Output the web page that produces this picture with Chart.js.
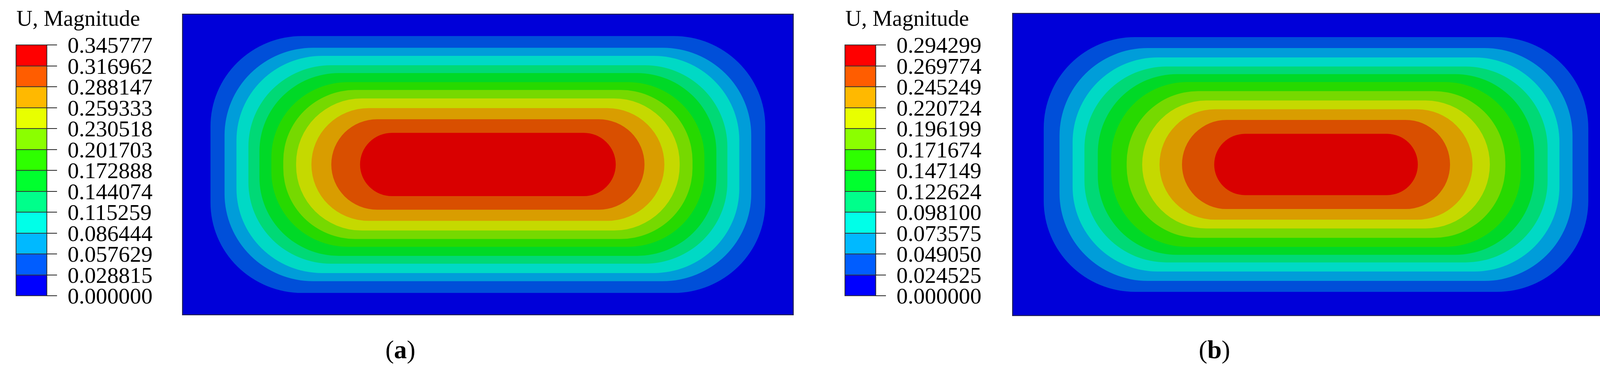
<!DOCTYPE html>
<html>
<head>
<meta charset="utf-8">
<script src="https://cdn.jsdelivr.net/npm/chart.js@4.4.1/dist/chart.umd.min.js"></script>
<style>
  html, body { margin:0; padding:0; background:#fff; }
  body { width:4177px; height:965px; position:relative; overflow:hidden; font-family:"Liberation Serif","DejaVu Serif",serif; color:#000; }
  .box { position:absolute; }
  .box canvas { display:block; }
  .ttl { position:absolute; font-size:57px; white-space:nowrap; line-height:1; }
  .lab { position:absolute; font-size:58px; line-height:1; white-space:nowrap; transform:translateY(-50%); }
  .sw { position:absolute; box-sizing:border-box; border:2px solid #333; }
  .tk { position:absolute; height:2px; background:#222; }
  .cap { position:absolute; font-size:66px; line-height:1; transform:translateX(-50%); }
</style>
</head>
<body>
<div class="box" id="boxA" style="left:466px;top:35px;width:1566px;height:772px"><canvas id="cA"></canvas></div>
<div class="box" id="boxB" style="left:2591px;top:33px;width:1556px;height:776px"><canvas id="cB"></canvas></div>
<div class="cap" style="left:1025px;top:862px">(<b>a</b>)</div>
<div class="cap" style="left:3109px;top:862px">(<b>b</b>)</div>
<script>
/* ── Data ── */
const LEVELS_A = ['0.345777','0.316962','0.288147','0.259333','0.230518','0.201703','0.172888','0.144074','0.115259','0.086444','0.057629','0.028815','0.000000'];
const LEVELS_B = ['0.294299','0.269774','0.245249','0.220724','0.196199','0.171674','0.147149','0.122624','0.098100','0.073575','0.049050','0.024525','0.000000'];
// legend colours, low → high
const BAND_COLORS = ['#0000ff','#005dff','#00b9ff','#00ffe8','#00ff8b','#00ff2e','#2eff00','#8bff00','#e8ff00','#ffb900','#ff5d00','#ff0000'];
// contour outlines (levels 1..11), half sizes in domain units, domain 2 x 1 centred at (1, 0.5)
const HALF_W_A = [0.907,0.861,0.822,0.783,0.747,0.708,0.669,0.627,0.577,0.512,0.418];
const HALF_H_A = [0.426,0.387,0.360,0.329,0.303,0.273,0.247,0.219,0.187,0.150,0.105];
const CORNER_A = [0.30,0.29,0.28,0.27,0.26,0.25,0.235,0.215,0.187,0.150,0.105];
const HALF_W_B = [0.896,0.844,0.801,0.762,0.718,0.674,0.623,0.572,0.515,0.441,0.335];
const HALF_H_B = [0.420,0.384,0.353,0.323,0.298,0.272,0.242,0.211,0.182,0.147,0.101];
const CORNER_B = [0.30,0.29,0.28,0.27,0.26,0.25,0.235,0.211,0.182,0.147,0.101];

function shade(hex, f) {
  const n = parseInt(hex.slice(1), 16);
  const r = Math.round((n >> 16 & 255) * f), g = Math.round((n >> 8 & 255) * f), b = Math.round((n & 255) * f);
  return `rgb(${r},${g},${b})`;
}

/* ── Contour plugin ── */
const contourPlugin = {
  id: 'contour',
  beforeDatasetsDraw(chart) {
    const { ctx, scales: { x, y } } = chart;
    const o = chart.options.plugins.contour;
    const px = v => x.getPixelForValue(v), py = v => y.getPixelForValue(v);
    ctx.save();
    ctx.fillStyle = shade(BAND_COLORS[0], 0.85);
    ctx.fillRect(px(0), py(1), px(2) - px(0), py(0) - py(1));
    o.hw.forEach((hw, i) => {
      const hh = o.hh[i], r = Math.min(o.corner[i], hh);
      const x0 = px(1 - hw), x1 = px(1 + hw), y0 = py(0.5 + hh), y1 = py(0.5 - hh);
      const rx = Math.abs(px(r) - px(0)), ry = Math.abs(py(r) - py(0));
      ctx.beginPath();
      ctx.moveTo(x0 + rx, y0);
      ctx.lineTo(x1 - rx, y0);
      ctx.ellipse(x1 - rx, y0 + ry, rx, ry, 0, -Math.PI / 2, 0);
      ctx.lineTo(x1, y1 - ry);
      ctx.ellipse(x1 - rx, y1 - ry, rx, ry, 0, 0, Math.PI / 2);
      ctx.lineTo(x0 + rx, y1);
      ctx.ellipse(x0 + rx, y1 - ry, rx, ry, 0, Math.PI / 2, Math.PI);
      ctx.lineTo(x0, y0 + ry);
      ctx.ellipse(x0 + rx, y0 + ry, rx, ry, 0, Math.PI, Math.PI * 1.5);
      ctx.closePath();
      ctx.fillStyle = shade(BAND_COLORS[i + 1], 0.85);
      ctx.fill();
    });
    ctx.strokeStyle = '#222255'; ctx.lineWidth = 3;
    ctx.strokeRect(px(0) + 1, py(1) + 1, px(2) - px(0) - 2, py(0) - py(1) - 2);
    ctx.restore();
  }
};

function makeChart(id, hw, hh, corner) {
  new Chart(document.getElementById(id), {
    type: 'scatter',
    data: { datasets: [{ data: hw.map((w, i) => ({ x: 1 - w, y: 0.5 + hh[i] })), pointRadius: 0 }] },
    options: {
      responsive: true, maintainAspectRatio: false, animation: false,
      layout: { padding: 0 },
      plugins: { legend: { display: false }, tooltip: { enabled: false }, contour: { hw, hh, corner } },
      scales: {
        x: { type: 'linear', min: 0, max: 2, display: false },
        y: { type: 'linear', min: 0, max: 1, display: false }
      }
    },
    plugins: [contourPlugin]
  });
}

/* ── Colour legend ── */
function legend(left, levels) {
  const top = 114, step = 53.5, w = 81;
  const t = document.createElement('div');
  t.className = 'ttl'; t.textContent = 'U, Magnitude';
  t.style.left = (left + 2) + 'px'; t.style.top = '18px';
  document.body.appendChild(t);
  levels.forEach((lv, i) => {
    const yy = top + i * step;
    if (i < levels.length - 1) {
      const s = document.createElement('div');
      s.className = 'sw';
      s.style.cssText += `left:${left}px;top:${yy}px;width:${w}px;height:${step + 2}px;background:${BAND_COLORS[BAND_COLORS.length - 1 - i]}`;
      document.body.appendChild(s);
    }
    const k = document.createElement('div');
    k.className = 'tk'; k.style.cssText += `left:${left + w - 2}px;top:${yy}px;width:27px`;
    document.body.appendChild(k);
    const l = document.createElement('div');
    l.className = 'lab'; l.textContent = lv;
    l.style.left = (left + 133) + 'px'; l.style.top = (yy + 2) + 'px';
    document.body.appendChild(l);
  });
}

legend(40, LEVELS_A);
legend(2162, LEVELS_B);
makeChart('cA', HALF_W_A, HALF_H_A, CORNER_A);
makeChart('cB', HALF_W_B, HALF_H_B, CORNER_B);
</script>
</body>
</html>
